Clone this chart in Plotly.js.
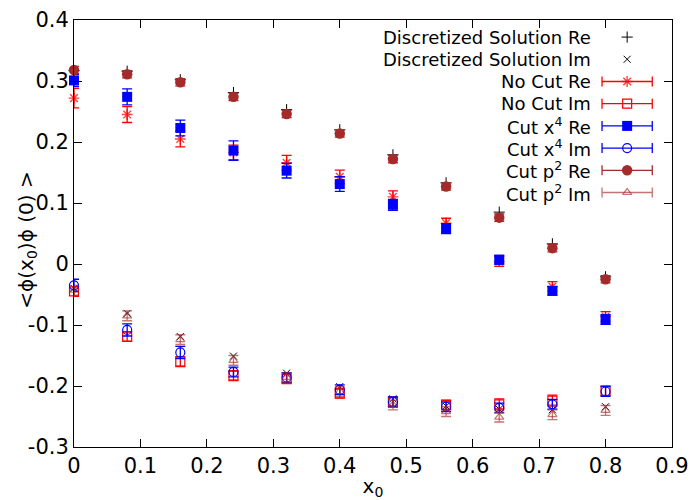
<!DOCTYPE html>
<html><head><meta charset="utf-8">
<script src="https://cdn.plot.ly/plotly-3.0.1.min.js"></script>
<style>html,body{margin:0;padding:0;background:#fff}#c{width:692px;height:500px}</style>
</head><body><div id="c"></div>
<script>
const xs = [0, 0.08, 0.16, 0.24, 0.32, 0.40, 0.48, 0.56, 0.64, 0.72, 0.80];
const discRe = [0.317, 0.316, 0.302, 0.281, 0.253, 0.220, 0.179, 0.133, 0.085, 0.033, -0.021];
const discIm = [-0.040, -0.081, -0.119, -0.151, -0.179, -0.201, -0.221, -0.233, -0.238, -0.239, -0.234];
const noCutRe = [0.272, 0.245, 0.205, 0.183, 0.166, 0.143, 0.110, 0.067, 0.004, -0.037, -0.086];
const noCutReErr = [0.016, 0.013, 0.013, 0.012, 0.012, 0.011, 0.010, 0.008, 0.008, 0.008, 0.008];
const noCutIm = [-0.045, -0.119, -0.160, -0.183, -0.188, -0.212, -0.226, -0.231, -0.230, -0.224, -0.208];
const noCutImErr = [0.008, 0.008, 0.008, 0.008, 0.008, 0.008, 0.008, 0.008, 0.009, 0.009, 0.008];
const x4Re = [0.301, 0.274, 0.223, 0.186, 0.153, 0.131, 0.097, 0.058, 0.007, -0.044, -0.091];
const x4ReErr = [0.010, 0.013, 0.013, 0.016, 0.012, 0.012, 0.009, 0.008, 0.007, 0.007, 0.008];
const x4Im = [-0.035, -0.108, -0.145, -0.177, -0.186, -0.206, -0.226, -0.234, -0.236, -0.230, -0.209];
const x4ImErr = [0.010, 0.010, 0.010, 0.008, 0.008, 0.008, 0.008, 0.008, 0.008, 0.008, 0.008];
const p2Re = [0.318, 0.311, 0.298, 0.274, 0.246, 0.214, 0.172, 0.127, 0.076, 0.026, -0.025];
const p2ReErr = [0.006, 0.006, 0.006, 0.006, 0.006, 0.006, 0.006, 0.006, 0.006, 0.006, 0.006];
const p2Im = [-0.043, -0.085, -0.124, -0.158, -0.186, -0.209, -0.231, -0.242, -0.251, -0.247, -0.240];
const p2ImErr = [0.008, 0.008, 0.008, 0.008, 0.008, 0.008, 0.008, 0.008, 0.008, 0.008, 0.008];
const legendNames = ["Discretized Solution Re", "Discretized Solution Im", "No Cut Re", "No Cut Im",
  "Cut x<sup>4</sup> Re", "Cut x<sup>4</sup> Im", "Cut p<sup>2</sup> Re", "Cut p<sup>2</sup> Im"];
const xTicks = [0, 0.1, 0.2, 0.3, 0.4, 0.5, 0.6, 0.7, 0.8, 0.9];
const xTickText = ["0", "0.1", "0.2", "0.3", "0.4", "0.5", "0.6", "0.7", "0.8", "0.9"];
const yTicks = [-0.3, -0.2, -0.1, 0, 0.1, 0.2, 0.3, 0.4];
const yTickText = ["-0.3", "-0.2", "-0.1", "0", "0.1", "0.2", "0.3", "0.4"];
const xTitle = "x<sub>0</sub>";
const yTitle = "<\u03d5(x<sub>0</sub>)\u03d5 (0) >";

const RED = "#ff0000", BLUE = "#0000ff", BROWN = "#a52a2a", BROWNL = "rgba(165,42,42,0.65)";
const styles = [
  {sym: "cross-thin-open", size: 8, color: "#000", err: null, lw: 1},
  {sym: "x-thin-open", size: 7, color: "#000", err: null, lw: 1},
  {sym: "asterisk-open", size: 9, color: "rgba(255,0,0,0.75)", ecol: RED, lw: 1.4},
  {sym: "square-open", size: 9, color: RED, ecol: RED, lw: 1.2},
  {sym: "square", size: 10, color: BLUE, ecol: BLUE, lw: 0},
  {sym: "circle-open", size: 9, color: BLUE, ecol: BLUE, lw: 1.2},
  {sym: "circle", size: 10.5, color: BROWN, ecol: BROWN, lw: 0},
  {sym: "triangle-up-open", size: 8, color: BROWNL, ecol: BROWNL, lw: 1.2}
];
const ys = [discRe, discIm, noCutRe, noCutIm, x4Re, x4Im, p2Re, p2Im];
const errs = [null, null, noCutReErr, noCutImErr, x4ReErr, x4ImErr, p2ReErr, p2ImErr];

const traces = [];
ys.forEach((y, i) => {
  const s = styles[i];
  const t = {x: xs, y: y, type: "scatter", mode: "markers", cliponaxis: false, showlegend: false,
    marker: {symbol: s.sym, size: s.size, color: s.color, line: {color: s.color, width: s.lw}}};
  if (errs[i]) t.error_y = {type: "data", array: errs[i], visible: true, color: s.ecol, thickness: 1.3, width: 5};
  traces.push(t);
});
// custom gnuplot-style legend (samples on the right of the text)
const annotations = [];
const rowTop = 0.960, rowStep = 0.052;
legendNames.forEach((name, i) => {
  const s = styles[i];
  const yy = rowTop - i * rowStep;
  annotations.push({xref: "paper", yref: "paper", x: 0.868, y: yy, xanchor: "right", yanchor: "middle",
    text: name, showarrow: false, font: {family: "DejaVu Sans", size: 18, color: "#000"}});
  const t = {x: [0.925], y: [yy], xaxis: "x2", yaxis: "y2", type: "scatter", mode: "markers", showlegend: false,
    cliponaxis: false, hoverinfo: "skip",
    marker: {symbol: s.sym, size: s.size, color: s.color, line: {color: s.color, width: s.lw}}};
  if (errs[i]) t.error_x = {type: "constant", value: 0.042, visible: true, color: s.ecol, thickness: 1.3, width: 5};
  traces.push(t);
});
annotations.push({xref: "paper", yref: "paper", x: -0.079, y: 0.485, xanchor: "center", yanchor: "middle",
  textangle: -90, text: yTitle, showarrow: false, font: {family: "DejaVu Sans", size: 20, color: "#000"}});

const axisCommon = {showline: true, linecolor: "#000", linewidth: 1, mirror: "ticks", ticks: "inside",
  ticklen: 8, tickcolor: "#000", showgrid: false, zeroline: false,
  tickfont: {family: "DejaVu Sans", size: 21, color: "#000"}};
const layout = {
  width: 692, height: 500, margin: {l: 74, r: 20, t: 20, b: 53},
  paper_bgcolor: "#fff", plot_bgcolor: "#fff",
  font: {family: "DejaVu Sans", color: "#000"},
  xaxis: Object.assign({}, axisCommon, {range: [0, 0.9], tickvals: xTicks, ticktext: xTickText,
    title: {text: xTitle, font: {family: "DejaVu Sans", size: 20, color: "#000"}, standoff: 4}}),
  yaxis: Object.assign({}, axisCommon, {range: [-0.3, 0.4], tickvals: yTicks, ticktext: yTickText}),
  xaxis2: {overlaying: "x", range: [0, 1], visible: false, fixedrange: true},
  yaxis2: {overlaying: "y", range: [0, 1], visible: false, fixedrange: true},
  annotations: annotations,
  showlegend: false
};
Plotly.newPlot("c", traces, layout, {displayModeBar: false, staticPlot: true});
</script></body></html>
